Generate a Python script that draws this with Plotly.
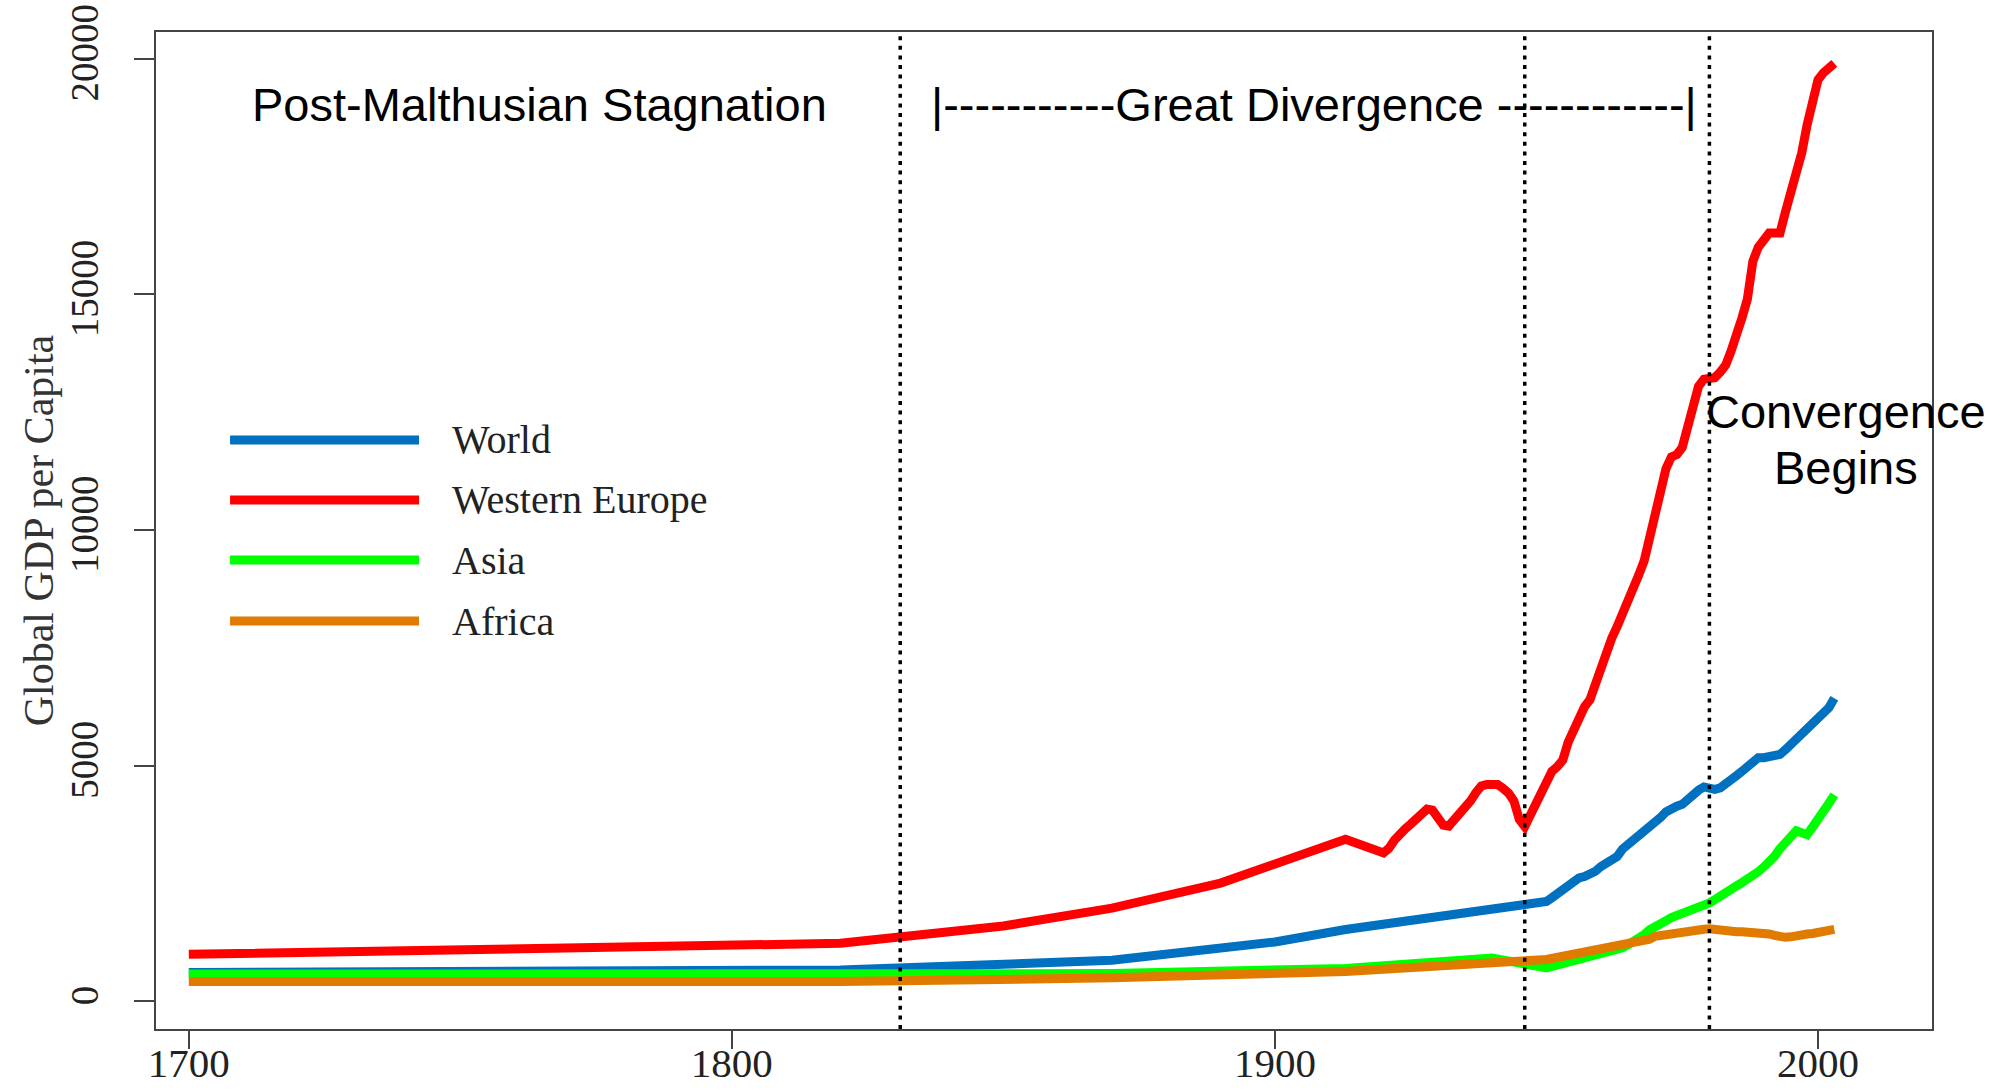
import plotly.graph_objects as go

# ---- data: GDP per capita by region ----
world_years = [1700, 1820, 1870, 1900, 1913, 1940] + list(range(1950, 2004))
world_gdp = [615, 667, 873, 1262, 1526, 1958,
             2120, 2200, 2280, 2380, 2440, 2550, 2620, 2650, 2700, 2760,
             2860, 2920, 2980, 3070, 3230, 3320, 3420, 3500, 3600, 3720,
             3800, 3900, 4020, 4100, 4140, 4180, 4300, 4380, 4480, 4550,
             4530, 4500, 4530, 4600, 4700, 4790, 4880, 4980, 5080, 5170,
             5170, 5190, 5200, 5240, 5340, 5450, 5580, 5690, 5740, 5860,
             6020, 6100, 6230, 6430]

weu_years = [1700, 1820, 1850, 1870, 1890, 1900, 1913] + list(range(1920, 2004))
weu_gdp = [1000, 1232, 1600, 1980, 2510, 2898, 3440,
           3150, 3250, 3420, 3560, 3660, 3760, 3850, 3960, 4080, 4060,
           3880, 3740, 3720, 3840, 4000, 4120, 4250, 4430, 4570, 4600,
           4580, 4600, 4520, 4420, 4250, 3860, 3710, 3950, 4170, 4420,
           4650, 4880, 4980, 5120, 5500, 5750, 6050, 6250, 6400, 6750,
           7000, 7350, 7700, 7950, 8200, 8500, 8750, 9050, 9350, 9800,
           10250, 10700, 11300, 11550, 11600, 11750, 12250, 12600, 13050, 13200,
           13230, 13230, 13350, 13500, 13800, 14100, 14500, 14900, 15700, 16000,
           16150, 16300, 16300, 16300, 16750, 17150, 17500, 18000, 18600, 19150,
           19550, 19700, 19800, 19900]

asia_years = [1700, 1820, 1870, 1913, 1940] + list(range(1950, 2004))
asia_gdp = [580, 585, 590, 700, 920,
            710, 740, 770, 810, 840, 870, 900, 920, 950, 970,
            1000, 1010, 1040, 1080, 1140, 1200, 1260, 1340, 1420, 1520,
            1600, 1650, 1710, 1780, 1820, 1870, 1920, 1960, 2020, 2060,
            2090, 2160, 2220, 2290, 2380, 2450, 2520, 2580, 2650, 2750,
            2850, 2940, 3080, 3240, 3390, 3530, 3620, 3580, 3540, 3700,
            3850, 4000, 4200, 4380]

africa_years = [1700, 1820, 1870, 1900, 1913] + list(range(1950, 2004))
africa_gdp = [421, 420, 500, 602, 637,
              890, 910, 930, 950, 980, 1000, 1030, 1050, 1060, 1080,
              1110, 1120, 1140, 1170, 1190, 1210, 1230, 1240, 1270, 1320,
              1380, 1400, 1420, 1440, 1470, 1480, 1500, 1510, 1510, 1530,
              1540, 1520, 1510, 1490, 1470, 1480, 1480, 1470, 1480, 1480,
              1450, 1430, 1400, 1370, 1360, 1370, 1400, 1420, 1430, 1440,
              1460, 1480, 1500, 1530]

series_names = ["World", "Western Europe", "Asia", "Africa"]
series_colors = ["#0070C0", "#FF0000", "#00FF00", "#E07B00"]
series_years = [world_years, weu_years, asia_years, africa_years]
series_values = [world_gdp, weu_gdp, asia_gdp, africa_gdp]

period_marks = [1831, 1946, 1980]
x_ticks = [1700, 1800, 1900, 2000]
y_ticks = [0, 5000, 10000, 15000, 20000]
y_tick_labels = ["0", "5000", "10000", "15000", "20000"]

SERIF = "Liberation Serif, Times New Roman, serif"
SANS = "Liberation Sans, Arial, sans-serif"

fig = go.Figure()
for name, yrs, vals, col in zip(series_names, series_years, series_values, series_colors):
    fig.add_trace(go.Scatter(x=yrs, y=vals, mode="lines", name=name,
                             line=dict(color=col, width=9), showlegend=False))

shapes = []
# dotted period boundaries
for yr in period_marks:
    shapes.append(dict(type="line", xref="x", yref="paper", x0=yr, x1=yr, y0=0, y1=1,
                       line=dict(color="black", width=3.5, dash="4px,5.6px"), layer="above"))

# hand-placed legend block
leg_y = [0.5908, 0.5306, 0.4704, 0.4092]
annotations = []
for name, col, ly in zip(series_names, series_colors, leg_y):
    shapes.append(dict(type="line", xref="paper", yref="paper", x0=0.0417, x1=0.1481,
                       y0=ly, y1=ly, line=dict(color=col, width=9)))
    annotations.append(dict(xref="paper", yref="paper", x=0.1655, y=ly, text=name,
                            showarrow=False, xanchor="left", yanchor="middle",
                            font=dict(family=SERIF, size=40, color="#222")))

annotations += [
    dict(xref="paper", yref="paper", x=0.2157, y=0.927, text="Post-Malthusian Stagnation",
         showarrow=False, xanchor="center", yanchor="middle",
         font=dict(family=SANS, size=47, color="black")),
    dict(xref="paper", yref="paper", x=0.652, y=0.927,
         text="|-----------Great Divergence ------------|",
         showarrow=False, xanchor="center", yanchor="middle",
         font=dict(family=SANS, size=47, color="black")),
    dict(xref="paper", yref="paper", x=0.9516, y=0.619, text="Convergence",
         showarrow=False, xanchor="center", yanchor="middle",
         font=dict(family=SANS, size=47, color="black")),
    dict(xref="paper", yref="paper", x=0.9516, y=0.563, text="Begins",
         showarrow=False, xanchor="center", yanchor="middle",
         font=dict(family=SANS, size=47, color="black")),
    dict(xref="paper", yref="paper", x=-0.066, y=0.5, text="Global GDP per Capita",
         showarrow=False, xanchor="center", yanchor="middle", textangle=-90,
         font=dict(family=SERIF, size=42, color="#333")),
]

axis_common = dict(showline=True, linecolor="#444", linewidth=2, mirror=True,
                   ticks="outside", tickwidth=2, tickcolor="#444",
                   showgrid=False, zeroline=False, automargin=False)

fig.update_layout(
    width=2005, height=1092,
    margin=dict(l=156, r=73, t=32, b=63),
    paper_bgcolor="white", plot_bgcolor="white",
    shapes=shapes, annotations=annotations,
    xaxis=dict(range=[1693.96, 2020.99], tickvals=x_ticks, ticklen=18,
               ticklabelstandoff=-21,
               tickfont=dict(family=SERIF, size=41, color="#222"), **axis_common),
    yaxis=dict(range=[-585, 20564], tickvals=y_ticks, ticktext=y_tick_labels,
               ticklen=20, tickangle=-90, ticklabelstandoff=20,
               tickfont=dict(family=SERIF, size=39, color="#222"), **axis_common),
)

fig.write_html("out.html")
